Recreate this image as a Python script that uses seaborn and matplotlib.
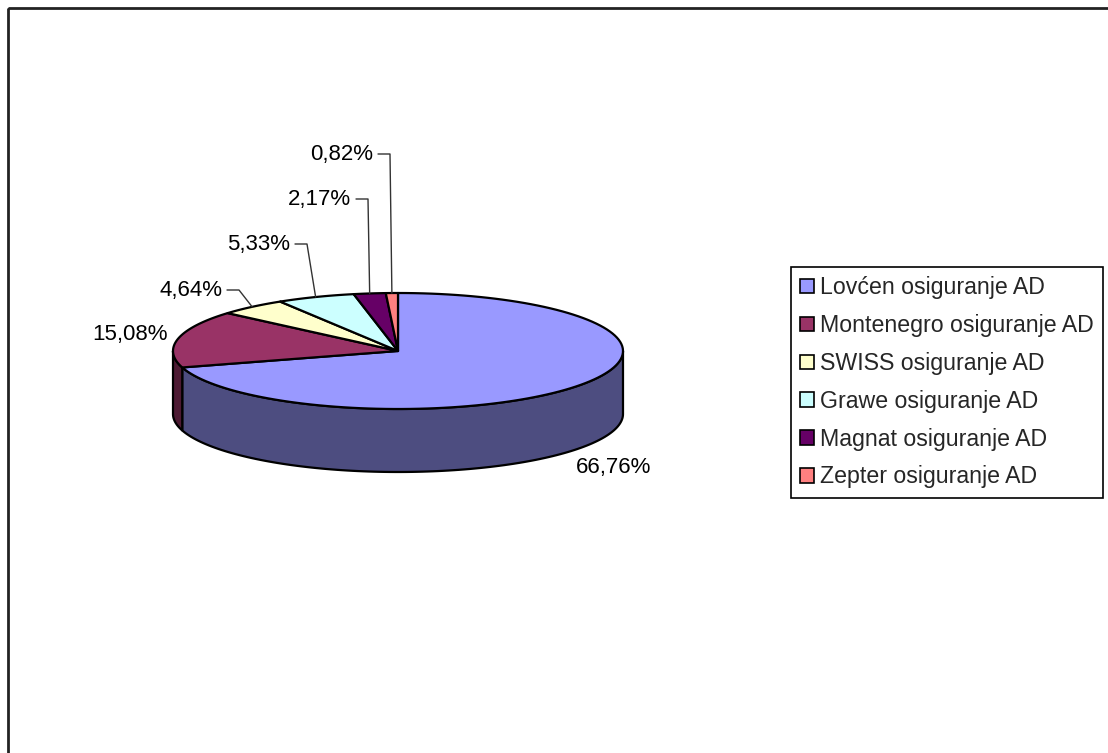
import numpy as np
import matplotlib
matplotlib.use("Agg")
import matplotlib.pyplot as plt
from matplotlib.patches import Polygon, Rectangle, Patch
from matplotlib.colors import to_rgb
import seaborn as sns

# market shares (values as printed on the chart)
companies = ["Lovćen osiguranje AD", "Montenegro osiguranje AD", "SWISS osiguranje AD",
             "Grawe osiguranje AD", "Magnat osiguranje AD", "Zepter osiguranje AD"]
shares = [66.76, 15.08, 4.64, 5.33, 2.17, 0.82]
share_labels = ["66,76%", "15,08%", "4,64%", "5,33%", "2,17%", "0,82%"]
top_colors = ["#9999FF", "#993366", "#FFFFCC", "#CCFFFF", "#660066", "#FF8080"]

sns.set_theme(style="white")
plt.rcParams['font.family'] = ['Liberation Sans', 'DejaVu Sans']

W, H = 1108, 753
fig = plt.figure(figsize=(W / 100, H / 100), dpi=100)
ax = fig.add_axes([0, 0, 1, 1])
ax.set_xlim(0, W)
ax.set_ylim(H, 0)
ax.axis('off')

# pie geometry (pixel space): centre, radii of the top ellipse and wall depth
cx, cy, rx, ry, depth = 398, 351, 225, 58, 63

fractions = np.array(shares) / sum(shares)
ends = 90 - 360 * np.cumsum(fractions)
starts = np.concatenate([[90], ends[:-1]])


def ellipse_pts(t0, t1, dy=0, n=120):
    t = np.radians(np.linspace(t0, t1, n))
    return np.column_stack([cx + rx * np.cos(t), cy - ry * np.sin(t) + dy])


# outer walls (only the front half, -180..0 deg, is visible)
for s, e, c in zip(starts, ends, top_colors):
    lo, hi = max(e, -180), min(s, 0)
    if lo >= hi:
        continue
    top = ellipse_pts(hi, lo)
    bottom = ellipse_pts(lo, hi, dy=depth)
    side_col = tuple(np.array(to_rgb(c)) * 0.5)
    ax.add_patch(Polygon(np.vstack([top, bottom]), closed=True, facecolor=side_col,
                         edgecolor='black', linewidth=1.6, zorder=1))

# top faces
for s, e, c in zip(starts, ends, top_colors):
    pts = np.vstack([[cx, cy], ellipse_pts(s, e)])
    ax.add_patch(Polygon(pts, closed=True, facecolor=c, edgecolor='black',
                         linewidth=1.6, joinstyle='round', zorder=2))

# data labels: (x, y, ha, leader line?)
label_pos = [(614, 467, 'center', False), (168, 334, 'right', False),
             (222, 290, 'right', True), (290, 244, 'right', True),
             (351, 199, 'right', True), (373, 154, 'right', True)]
mids = (starts + ends) / 2
for lab, (lx, ly, ha, leader), m in zip(share_labels, label_pos, mids):
    ax.text(lx, ly, lab, ha=ha, va='center', fontsize=16, color='black', zorder=4)
    if leader:
        mr = np.radians(m)
        ax_, ay_ = cx + rx * np.cos(mr), cy - ry * np.sin(mr)
        ax.plot([lx + 5, lx + 17, ax_], [ly, ly, ay_], color='#333333',
                linewidth=1.0, zorder=3)

# chart area border
ax.add_patch(Rectangle((8, 8), W, H, fill=False, edgecolor='#222222',
                       linewidth=2, zorder=0))

handles = [Patch(facecolor=c, edgecolor='black', linewidth=1.2) for c in top_colors]
leg = ax.legend(handles, companies, loc='upper left',
                bbox_to_anchor=(791 / W, 1 - 267 / H), bbox_transform=fig.transFigure,
                frameon=True, fancybox=False, edgecolor='black', framealpha=1,
                fontsize=16.7, handlelength=0.58, handleheight=0.58, handletextpad=0.28,
                labelspacing=0.64, borderpad=0.4, borderaxespad=0)
leg.get_frame().set_linewidth(1.2)

fig.savefig("out.png", dpi=100, facecolor='white')
